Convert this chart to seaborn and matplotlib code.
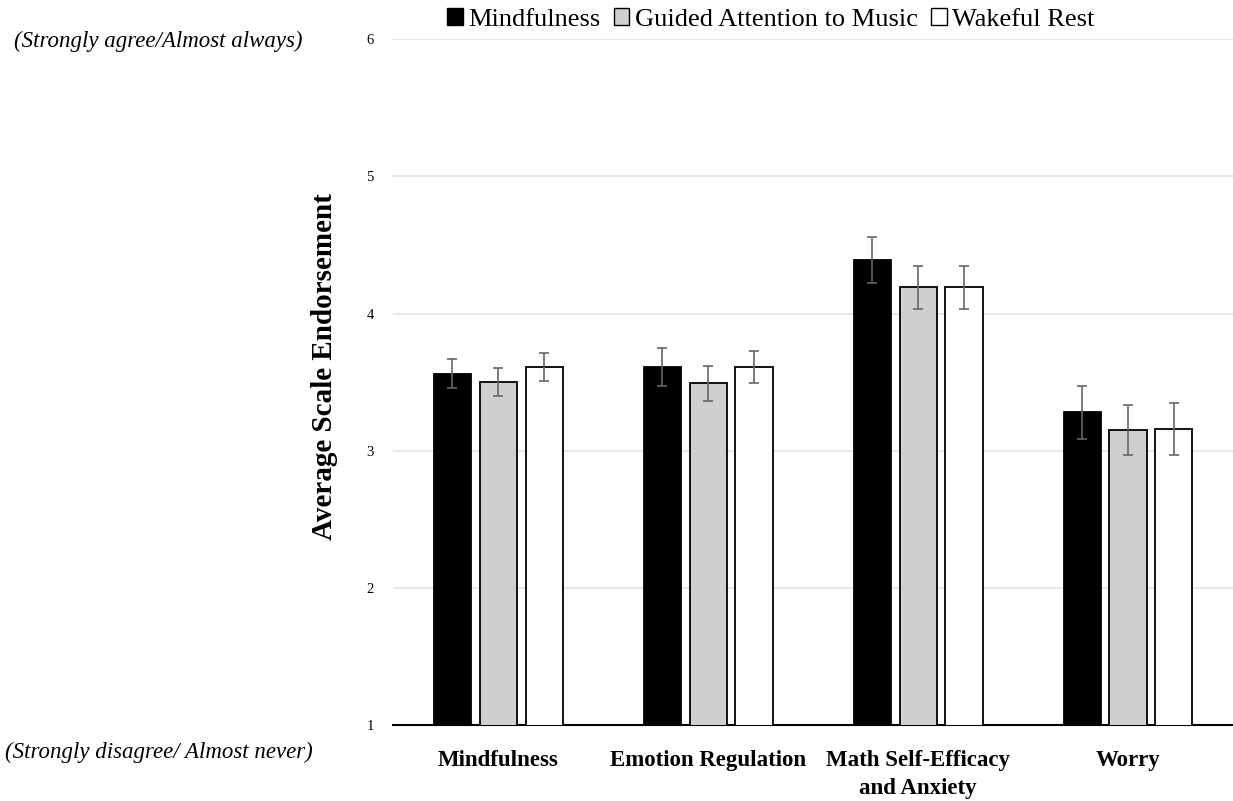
import matplotlib
matplotlib.use("Agg")
import matplotlib.pyplot as plt
import numpy as np
import pandas as pd
import seaborn as sns
from matplotlib.patches import Patch

# Scale means and standard errors per condition
categories = ["Mindfulness", "Emotion Regulation", "Math Self-Efficacy\nand Anxiety", "Worry"]
conditions = ["Mindfulness", "Guided Attention to Music", "Wakeful Rest"]
mindfulness_mean = [3.56, 3.61, 4.39, 3.28]
music_mean = [3.50, 3.49, 4.19, 3.15]
rest_mean = [3.61, 3.61, 4.19, 3.16]
mindfulness_se = [0.105, 0.135, 0.165, 0.195]
music_se = [0.105, 0.125, 0.160, 0.185]
rest_se = [0.100, 0.120, 0.160, 0.190]
y_ticks = [1, 2, 3, 4, 5, 6]

means = [mindfulness_mean, music_mean, rest_mean]
ses = [mindfulness_se, music_se, rest_se]
rows = []
for cond, m, s in zip(conditions, means, ses):
    for cat, mv, sv in zip(categories, m, s):
        rows.append({"Scale": cat, "Condition": cond, "Mean": mv, "SE": sv})
df = pd.DataFrame(rows)

sns.set_theme(style="white")
plt.rcParams["font.family"] = ["Liberation Serif", "DejaVu Serif"]
plt.rcParams["text.color"] = "black"
plt.rcParams["axes.labelcolor"] = "black"
plt.rcParams["xtick.color"] = "black"
plt.rcParams["ytick.color"] = "black"

fills = {"Mindfulness": "#000000", "Guided Attention to Music": "#d0cece", "Wakeful Rest": "#ffffff"}

fig = plt.figure(figsize=(12.33, 8.01), dpi=100)
ax = fig.add_axes([0.319, 0.095, 0.681, 0.856])

sns.barplot(data=df, x="Scale", y="Mean", hue="Condition", order=categories,
            hue_order=conditions, palette=fills, width=0.655, gap=0.19,
            errorbar=None, edgecolor="black", linewidth=1.3, legend=False,
            ax=ax, zorder=3)

# error bars placed on the bar centres seaborn computed
for cond, container in zip(conditions, ax.containers):
    sub = df[df["Condition"] == cond].set_index("Scale").loc[categories]
    xs = [p.get_x() + p.get_width() / 2 for p in container]
    ax.errorbar(xs, sub["Mean"].values, yerr=sub["SE"].values, fmt="none",
                ecolor="#666666", elinewidth=1.2, capsize=3.5, capthick=1.2, zorder=4)

ax.set_ylim(1, 6)
ax.set_xlim(-0.5, 3.5)
ax.set_yticks(y_ticks)
ax.set_yticklabels([str(t) for t in y_ticks], fontsize=10.5)
ax.yaxis.grid(True, color="#e3e3e3", linewidth=1.2, zorder=0)
ax.set_axisbelow(True)
for side in ["left", "right", "top"]:
    ax.spines[side].set_visible(False)
ax.spines["bottom"].set_color("black")
ax.spines["bottom"].set_linewidth(1.5)
ax.tick_params(axis="y", length=0, pad=14)
ax.tick_params(axis="x", length=0, pad=18)
for lbl in ax.get_xticklabels():
    lbl.set_fontweight("bold")
    lbl.set_fontsize(16.5)
    lbl.set_linespacing(1.45)
ax.set_xlabel("")
ax.set_ylabel("Average Scale Endorsement", fontsize=21, fontweight="bold")
ax.yaxis.set_label_coords(-0.066, 0.522)

fig.text(0.011, 0.948, "(Strongly agree/Almost always)", fontsize=16.5, fontstyle="italic",
         va="center", ha="left")
fig.text(0.004, 0.061, "(Strongly disagree/ Almost never)", fontsize=16.5, fontstyle="italic",
         va="center", ha="left")

handles = [Patch(facecolor=fills[c], edgecolor="black", linewidth=1.0) for c in conditions]
fig.legend(handles, conditions, loc="center", bbox_to_anchor=(0.625, 0.976), ncol=3,
           frameon=False, fontsize=19, handlelength=0.6, handleheight=0.6,
           handletextpad=0.2, columnspacing=0.5, borderpad=0)

fig.savefig("out.png", dpi=100)
